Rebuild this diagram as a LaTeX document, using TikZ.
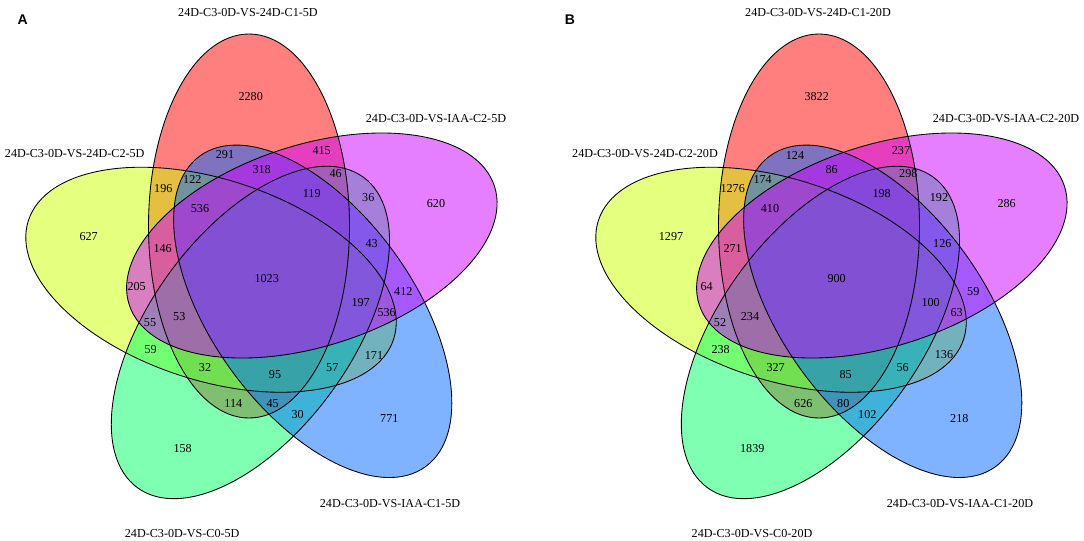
\documentclass[tikz,border=0pt]{standalone}
\usepackage{fontspec}
\setmainfont{Liberation Serif}
\newfontfamily\panelfont{Liberation Sans}
\definecolor{vred}{HTML}{FF0000}
\definecolor{vyel}{HTML}{CCFF00}
\definecolor{vgrn}{HTML}{00FF66}
\definecolor{vblu}{HTML}{0066FF}
\definecolor{vpur}{HTML}{CC00FF}
\tikzset{
  num/.style={font=\fontsize{9.1}{10}\selectfont, inner sep=0pt},
  setlabel/.style={font=\fontsize{9.1}{10}\selectfont, inner sep=0pt},
  paneltag/.style={font=\panelfont\bfseries\fontsize{10.5}{12}\selectfont, inner sep=0pt},
  vfill/.style={fill=#1, fill opacity=0.5},
  vline/.style={draw=black, line width=0.65pt},
}
\begin{document}
\begin{tikzpicture}[x=0.75pt, y=-0.75pt]
\useasboundingbox (0,0) rectangle (1084,540);
\foreach \sx in {0, 570} {
  \begin{scope}[shift={(\sx,0)}]
    \foreach \ang/\col in {0/vred, 72/vyel, 144/vgrn, -144/vblu, -72/vpur}
      \fill[vfill=\col, rotate around={\ang:(267,279)}] (249,226) ellipse [x radius=75.375pt, y radius=144pt];
    \foreach \ang in {0, 72, 144, -144, -72}
      \draw[vline, rotate around={\ang:(267,279)}] (249,226) ellipse [x radius=75.375pt, y radius=144pt];
  \end{scope}
}
\node[paneltag] (tagA) at (22.7,20) {A};
\node[paneltag] (tagB) at (570,19.5) {B};
% set labels A
\node[setlabel] (lA1) at (248,12.3) {24D-C3-0D-VS-24D-C1-5D};
\node[setlabel] (lA5) at (436,119) {24D-C3-0D-VS-IAA-C2-5D};
\node[setlabel] (lA2) at (74.7,154) {24D-C3-0D-VS-24D-C2-5D};
\node[setlabel] (lA4) at (390,503.3) {24D-C3-0D-VS-IAA-C1-5D};
\node[setlabel] (lA3) at (182.2,533.3) {24D-C3-0D-VS-C0-5D};
% set labels B
\node[setlabel] (lB1) at (818,12.3) {24D-C3-0D-VS-24D-C1-20D};
\node[setlabel] (lB5) at (1006,119) {24D-C3-0D-VS-IAA-C2-20D};
\node[setlabel] (lB2) at (645,154) {24D-C3-0D-VS-24D-C2-20D};
\node[setlabel] (lB4) at (960,503.3) {24D-C3-0D-VS-IAA-C1-20D};
\node[setlabel] (lB3) at (752,533.3) {24D-C3-0D-VS-C0-20D};
% numbers, panel A
\foreach \x/\y/\t [count=\i] in {
  250.7/96.7/2280, 225/155/291, 321.7/150.7/415, 261.7/169.3/318,
  192.3/179.3/122, 163.3/188.3/196, 335.7/173.3/46, 311.7/194/119,
  368.3/197.3/36, 436/203.3/620, 200/208.3/536, 88.7/236.7/627,
  162.7/248.3/146, 371.7/244/43, 266.7/278.3/1023, 136.7/286.7/205,
  403.3/291.7/412, 360.7/302.3/197, 386.7/312.7/536, 150/322.7/55,
  179.3/316.7/53, 150.7/350/59, 374/355/171, 205/367.7/32,
  275/375/95, 332.3/367.7/57, 233.3/403.3/114, 272.7/403.3/45,
  297.7/414.3/30, 389.3/418.3/771, 182.7/448.3/158}
  \node[num] (nA\i) at (\x,\y) {\t};
% numbers, panel B
\foreach \x/\y/\t [count=\i] in {
  816.7/96.7/3822, 795/155/124, 901/150.7/237, 831.7/169.3/86,
  762.7/179.3/174, 732.7/188.3/1276, 908.3/173.3/298, 881.7/194/198,
  939/197.3/192, 1006.7/203.3/286, 770/208.3/410, 671/236.7/1297,
  732.7/248.3/271, 942.3/244/126, 836.7/278.3/900, 706.7/286.7/64,
  973.3/291.7/59, 930.7/302.3/100, 956.7/312.7/63, 720/322.7/52,
  750/316.7/234, 720.7/350/238, 944/355/136, 775.7/367.7/327,
  845.7/375/85, 902.7/367.7/56, 803.3/403.3/626, 843.3/403.3/80,
  867.3/414.3/102, 959.3/418.3/218, 752.3/448.3/1839}
  \node[num] (nB\i) at (\x,\y) {\t};
\end{tikzpicture}
\end{document}
